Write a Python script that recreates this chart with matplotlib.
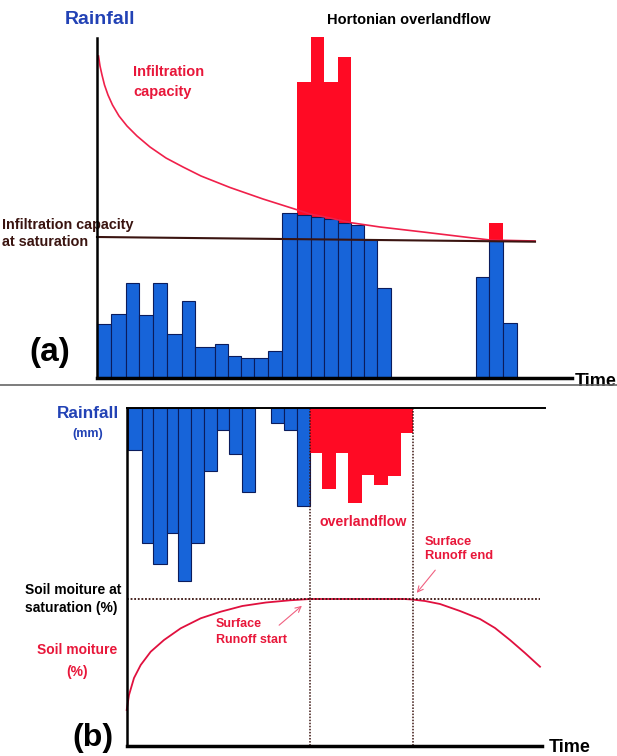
import matplotlib.pyplot as plt
import numpy as np

plt.rcParams['font.family'] = ['Liberation Sans', 'DejaVu Sans']
plt.rcParams['font.weight'] = 'bold'

# ---- panel (a): rainfall intensity vs infiltration capacity ----
# interval boundaries (time, px along the axis)
time_a = [97.3, 111, 125.7, 139.3, 153.3, 167.3, 181.7, 195, 215, 227.7, 240.7,
          254.3, 267.7, 281.7, 296.7, 310.7, 324, 337.5, 351, 364.3, 377.3, 391]
rain_a = [54, 64, 95, 63, 95, 44, 77, 31, 34, 22, 20, 20, 27,
          165, 296, 341, 296, 321, 153, 138, 90]
infil_a = [54, 64, 95, 63, 95, 44, 77, 31, 34, 22, 20, 20, 27,
           165, 163, 161, 159, 155, 153, 138, 90]
time_a2 = [475.7, 489.3, 503.3, 516.7]
rain_a2 = [101, 155, 55]
infil_a2 = [101, 138, 55]

# infiltration capacity curve (x px, y px)
cap_x = [98.5, 100, 102, 104.5, 108, 112.5, 119, 127, 137, 150, 166, 183, 201,
         230, 263, 293, 310, 330, 351, 380, 423, 473, 490, 535]
cap_y = [56, 66, 75, 85, 95, 105, 116, 126, 136, 147, 158, 167, 176,
         187.5, 199, 208.5, 214, 218, 222.7, 227, 232, 238, 240, 241]

# ---- panel (b): rainfall and soil moisture ----
time_b = [128.3, 141.7, 153.3, 166.7, 178.3, 191, 204.3, 217.3, 229.3, 242, 255]
rain_b = [42, 135, 156, 125, 173, 135, 63, 22, 46, 84]
time_b2 = [271, 284.3, 297.3, 310]
rain_b2 = [15, 22, 98]
time_b3 = [310, 322.3, 336, 348.3, 361.7, 374.3, 387.7, 401, 413.3]
runoff_b = [45, 81, 45, 95, 67, 77, 68, 25]

soil_x = [126.7, 129, 134, 140.7, 150.7, 164, 180.7, 200.7, 220.7, 242.3, 266,
          290, 310, 404, 412, 425, 440, 460, 480, 495, 510, 525, 540]
soil_y = [710, 695, 678, 665, 651.7, 640, 628.3, 618.3, 611.7, 606, 602.5,
          600.3, 599, 599, 599.5, 601, 604, 611, 619, 628, 640, 653, 666.7]

BLUE = '#1764d9'
RED = '#ff0a24'
TXT_RED = '#e8173a'
TXT_BLUE = '#2242b5'
BROWN = '#3a1410'

fig = plt.figure(figsize=(6.17, 7.56), dpi=100)
ax = fig.add_axes([0, 0, 1, 1])
ax.set_xlim(0, 617)
ax.set_ylim(756, 0)
ax.axis('off')

base_a = 378
top_b = 407.5


def bars_up(edges, vals, bottom_vals, color, ec, lw):
    left = np.array(edges[:-1])
    width = np.diff(edges)
    ax.bar(left, -np.array(vals, float), bottom=base_a - np.array(bottom_vals, float),
           width=width, align='edge', color=color, edgecolor=ec, linewidth=lw, zorder=2)


# red excess on top of infiltrated part
ex = np.array(rain_a) - np.array(infil_a)
ex2 = np.array(rain_a2) - np.array(infil_a2)
bars_up(time_a, ex, infil_a, RED, 'none', 0)
bars_up(time_a2, ex2, infil_a2, RED, 'none', 0)
bars_up(time_a, infil_a, np.zeros(len(infil_a)), BLUE, '#0b1c5c', 0.8)
bars_up(time_a2, infil_a2, np.zeros(len(infil_a2)), BLUE, '#0b1c5c', 0.8)

ax.plot(cap_x, cap_y, color='#f0204a', lw=1.2, zorder=3)
ax.plot([97, 535], [237, 241.7], color=BROWN, lw=1.5, zorder=3)

ax.plot([97, 97], [38, base_a], color='black', lw=1.8, zorder=4)
ax.plot([97, 572], [base_a, base_a], color='black', lw=2.5, zorder=4)
ax.plot([0, 617], [385, 385], color='#666666', lw=1.2, zorder=4)

ax.text(65, 20, 'Rainfall', color=TXT_BLUE, fontsize=14, va='center')
ax.text(327, 20, 'Hortonian overlandflow', color='black', fontsize=10.5, va='center')
ax.text(133, 82, 'Infiltration\ncapacity', color=TXT_RED, fontsize=10.5,
        va='center', linespacing=1.55)
ax.text(2, 225, 'Infiltration capacity', color=BROWN, fontsize=10.4, va='center')
ax.text(2, 242, 'at saturation', color=BROWN, fontsize=10.4, va='center')
ax.text(29, 353, '(a)', color='black', fontsize=24, va='center')
ax.text(575, 381, 'Time', color='black', fontsize=13, va='center')

# panel (b) bars hang down from the top line
for edges, vals, col in [(time_b, rain_b, BLUE), (time_b2, rain_b2, BLUE),
                         (time_b3, runoff_b, RED)]:
    ec = '#0b1c5c' if col == BLUE else 'none'
    ax.bar(np.array(edges[:-1]), vals, bottom=top_b, width=np.diff(edges),
           align='edge', color=col, edgecolor=ec, linewidth=0.8, zorder=2)

ax.plot(soil_x, soil_y, color='#e0103e', lw=1.3, zorder=3)
ax.plot([126.5, 540], [599, 599], color=BROWN, lw=1.3, ls=(0, (1, 1)), zorder=4)
for xv in [310, 413]:
    ax.plot([xv, xv], [top_b, 746], color=BROWN, lw=1.1, ls=(0, (1, 1)), zorder=4)

ax.plot([126.5, 545], [top_b, top_b], color='black', lw=1.4, zorder=4)
ax.plot([126.5, 126.5], [top_b, 746], color='black', lw=1.8, zorder=4)
ax.plot([126.5, 542], [746, 746], color='black', lw=2.5, zorder=4)

ax.text(57, 413, 'Rainfall', color=TXT_BLUE, fontsize=12.3, va='center')
ax.text(88, 434, '(mm)', color=TXT_BLUE, fontsize=9, va='center', ha='center')
ax.text(320, 522, 'overlandflow', color=TXT_RED, fontsize=10.2, va='center')
ax.text(425, 549, 'Surface\nRunoff end', color=TXT_RED, fontsize=9.3, va='center',
        linespacing=1.3)
ax.text(216, 632, 'Surface\nRunoff start', color=TXT_RED, fontsize=9, va='center',
        linespacing=1.4)
ax.text(25, 599, 'Soil moiture at\nsaturation (%)', color='black', fontsize=10,
        va='center', linespacing=1.3)
ax.text(77, 661, 'Soil moiture\n(%)', color=TXT_RED, fontsize=10, va='center',
        ha='center', linespacing=1.75)
ax.text(72, 738, '(b)', color='black', fontsize=23, va='center')
ax.text(549, 748, 'Time', color='black', fontsize=13, va='center')

arrow = dict(arrowstyle='->', color='#f06080', lw=0.8)
ax.annotate('', xy=(304, 604), xytext=(277, 627), arrowprops=arrow)
ax.annotate('', xy=(415, 595), xytext=(437, 568), arrowprops=arrow)

fig.savefig('out.png', dpi=100)
